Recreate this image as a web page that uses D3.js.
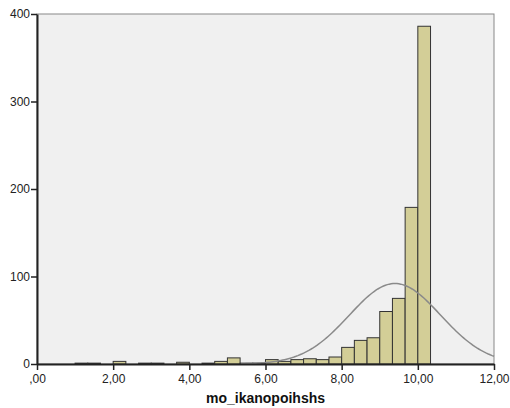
<!DOCTYPE html>
<html>
<head>
<meta charset="utf-8">
<script src="https://cdn.jsdelivr.net/npm/d3@7"></script>
<style>
  body { margin: 0; background: #fff; }
  svg { display: block; font-family: "Liberation Sans", Arial, sans-serif; }
</style>
</head>
<body>
<div id="chart"></div>
<script>
// histogram bins (lower edge, width 1/3) and counts
const binStarts = [1.0, 4/3, 5/3, 2.0, 7/3, 8/3, 3.0, 10/3, 11/3, 4.0, 13/3, 14/3, 5.0, 16/3, 17/3,
    6.0, 19/3, 20/3, 7.0, 22/3, 23/3, 8.0, 25/3, 26/3, 9.0, 28/3, 29/3, 10.0];
const binCounts = [1, 1, 0, 3, 0, 1, 1, 0, 2, 0, 1, 3, 7, 1, 1,
    5, 3, 5, 6, 5, 8, 19, 27, 30, 60, 75, 179, 386];
const binWidth = 1 / 3;
const xTicks = [0, 2, 4, 6, 8, 10, 12];
const yTicks = [0, 100, 200, 300, 400];
// fitted normal curve
const curveMean = 9.4;
const curveSd = 1.2;

const margin = { top: 14, right: 16, bottom: 44, left: 37 },
    width = 510 - margin.left - margin.right,
    height = 408 - margin.top - margin.bottom;

const svg = d3.select("#chart")
    .append("svg")
    .attr("width", 510)
    .attr("height", 408)
    .append("g")
    .attr("transform", "translate(" + margin.left + "," + margin.top + ")");

const x = d3.scaleLinear().domain([0, 12]).range([0, width]);
const y = d3.scaleLinear().domain([0, 400]).range([height, 0]);

// plot background + frame
svg.append("rect")
    .attr("width", width)
    .attr("height", height)
    .attr("fill", "#f0f0f0")
    .attr("stroke", "#888")
    .attr("stroke-width", 1);

// bars
svg.selectAll(".bar")
    .data(binStarts)
    .enter()
    .append("rect")
    .filter((d, i) => binCounts[i] > 0)
    .attr("x", d => x(d))
    .attr("y", (d, i) => y(binCounts[binStarts.indexOf(d)]))
    .attr("width", d => x(d + binWidth) - x(d))
    .attr("height", d => height - y(binCounts[binStarts.indexOf(d)]))
    .attr("fill", "#d3ce97")
    .attr("stroke", "#333")
    .attr("stroke-width", 1);

// normal curve
const total = d3.sum(binCounts);
const normal = v => total * binWidth / (curveSd * Math.sqrt(2 * Math.PI)) *
    Math.exp(-0.5 * Math.pow((v - curveMean) / curveSd, 2));
const curvePts = d3.range(0, 12.001, 0.05).map(v => [v, normal(v)])
    .filter(p => p[1] >= 0.3);
svg.append("path")
    .datum(curvePts)
    .attr("fill", "none")
    .attr("stroke", "#8a8a8a")
    .attr("stroke-width", 1.5)
    .attr("d", d3.line().x(d => x(d[0])).y(d => y(d[1])));

// axes
const fmt = v => (v === 0 ? "" : String(v)) + ",00";
const xAxis = svg.append("g")
    .attr("transform", "translate(0," + height + ")")
    .call(d3.axisBottom(x).tickValues(xTicks).tickFormat(fmt).tickSize(6).tickSizeOuter(0));
xAxis.select(".domain").attr("stroke", "#222").attr("stroke-width", 2);
xAxis.selectAll(".tick line").attr("stroke", "#222").attr("stroke-width", 1.5);
xAxis.selectAll("text").attr("font-size", "12px").attr("fill", "#222").attr("dy", "0.85em");

const yAxis = svg.append("g")
    .call(d3.axisLeft(y).tickValues(yTicks).tickSize(6).tickSizeOuter(0));
yAxis.select(".domain").attr("stroke", "#222").attr("stroke-width", 2);
yAxis.selectAll(".tick line").attr("stroke", "#222").attr("stroke-width", 1.5);
yAxis.selectAll("text").attr("font-size", "12px").attr("fill", "#222").attr("x", -7);

// axis title
svg.append("text")
    .attr("x", width / 2)
    .attr("y", height + 39)
    .attr("text-anchor", "middle")
    .attr("font-size", "14px")
    .attr("font-weight", "bold")
    .attr("fill", "#111")
    .text("mo_ikanopoihshs");
</script>
</body>
</html>
